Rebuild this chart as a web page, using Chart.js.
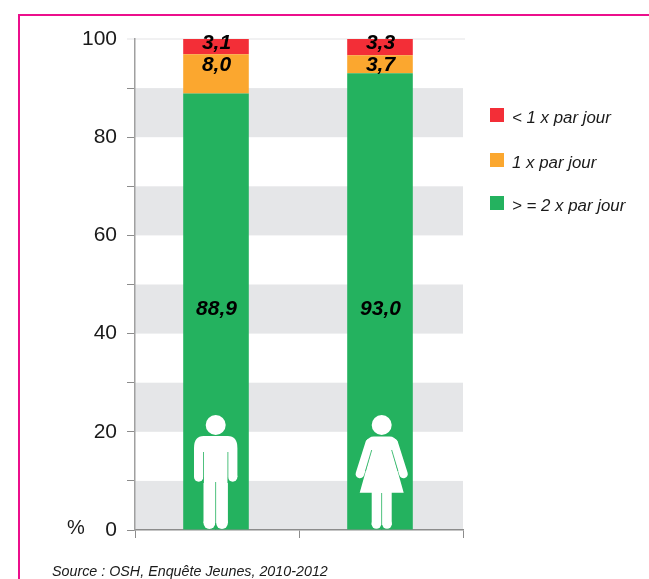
<!DOCTYPE html>
<html>
<head>
<meta charset="utf-8">
<style>html,body{margin:0;padding:0;background:#fff;overflow:hidden}canvas{display:block}</style>
<script src="https://cdn.jsdelivr.net/npm/chart.js@4"></script>
</head>
<body>
<canvas id="c" width="649" height="579"></canvas>
<script>
const categories = ["Garçons", "Filles"];
const twiceOrMore = [88.9, 93.0];
const once = [8.0, 3.7];
const lessThanOnce = [3.1, 3.3];
const twiceLabels = ["88,9", "93,0"];
const onceLabels = ["8,0", "3,7"];
const lessLabels = ["3,1", "3,3"];
const seriesNames = ["> = 2 x par jour", "1 x par jour", "< 1 x par jour"];
const seriesColors = ["#24b25f", "#fba72f", "#f32e37"];
const bandRanges = [[0, 10], [20, 30], [40, 50], [60, 70], [80, 90]];
const FONT = '"Liberation Sans", Arial, sans-serif';

function circle(ctx, x, y, r) { ctx.beginPath(); ctx.arc(x, y, r, 0, Math.PI * 2); ctx.fill(); }
function limb(ctx, x1, y1, x2, y2, w) {
  ctx.save(); ctx.strokeStyle = '#fff'; ctx.lineWidth = w; ctx.lineCap = 'round';
  ctx.beginPath(); ctx.moveTo(x1, y1); ctx.lineTo(x2, y2); ctx.stroke(); ctx.restore();
}
function drawMan(ctx, cx, base) {
  ctx.fillStyle = '#fff';
  circle(ctx, cx, base - 105, 10);
  ctx.beginPath();
  ctx.moveTo(cx - 12, base - 94);
  ctx.lineTo(cx + 12, base - 94);
  ctx.quadraticCurveTo(cx + 21.7, base - 94, cx + 21.7, base - 82);
  ctx.lineTo(cx + 21.7, base - 53);
  ctx.lineTo(cx - 21.7, base - 53);
  ctx.lineTo(cx - 21.7, base - 82);
  ctx.quadraticCurveTo(cx - 21.7, base - 94, cx - 12, base - 94);
  ctx.fill();
  circle(ctx, cx - 17, base - 53, 4.7);
  circle(ctx, cx + 17, base - 53, 4.7);
  ctx.fillRect(cx - 12.2, base - 60, 24.4, 53);
  circle(ctx, cx - 6.3, base - 7, 5.9);
  circle(ctx, cx + 6.3, base - 7, 5.9);
  ctx.fillStyle = seriesColors[0];
  ctx.fillRect(cx - 12.6, base - 78, 0.8, 31);
  ctx.fillRect(cx + 11.8, base - 78, 0.8, 31);
  ctx.fillRect(cx - 0.4, base - 48, 0.8, 48);
}
function drawWoman(ctx, cx, base) {
  ctx.fillStyle = '#fff';
  circle(ctx, cx, base - 105, 10);
  limb(ctx, cx - 12, base - 87, cx - 21.8, base - 56, 8.6);
  limb(ctx, cx + 12, base - 87, cx + 21.8, base - 56, 8.6);
  ctx.beginPath();
  ctx.moveTo(cx - 8, base - 93.5);
  ctx.lineTo(cx + 8, base - 93.5);
  ctx.quadraticCurveTo(cx + 13, base - 93.5, cx + 16, base - 88);
  ctx.lineTo(cx + 10, base - 80);
  ctx.lineTo(cx + 22, base - 37.3);
  ctx.lineTo(cx - 22, base - 37.3);
  ctx.lineTo(cx - 10, base - 80);
  ctx.lineTo(cx - 16, base - 88);
  ctx.quadraticCurveTo(cx - 13, base - 93.5, cx - 8, base - 93.5);
  ctx.fill();
  ctx.fillRect(cx - 10, base - 38, 20, 33);
  circle(ctx, cx - 5.3, base - 6, 4.8);
  circle(ctx, cx + 5.3, base - 6, 4.8);
  ctx.strokeStyle = seriesColors[0];
  ctx.lineWidth = 0.8;
  ctx.beginPath();
  ctx.moveTo(cx - 10, base - 80);
  ctx.lineTo(cx - 16.2, base - 59);
  ctx.moveTo(cx + 10, base - 80);
  ctx.lineTo(cx + 16.2, base - 59);
  ctx.stroke();
  ctx.fillStyle = seriesColors[0];
  ctx.fillRect(cx - 0.4, base - 37, 0.8, 37);
}

const backdrop = {
  id: 'backdrop',
  beforeDraw(chart) {
    const { ctx, chartArea: a, scales: { y } } = chart;
    ctx.save();
    ctx.fillStyle = '#e5e6e8';
    bandRanges.forEach(([lo, hi]) => {
      ctx.fillRect(a.left, y.getPixelForValue(hi), a.right - a.left, y.getPixelForValue(lo) - y.getPixelForValue(hi));
    });
    ctx.fillStyle = '#f1f1f2';
    ctx.fillRect(a.left - 8, y.getPixelForValue(100) - 1, a.right - a.left + 10, 2);
    ctx.strokeStyle = '#ec0f8c';
    ctx.lineWidth = 2;
    ctx.strokeRect(19, 15, 700, 700);
    ctx.restore();
  },
  afterDatasetsUpdate(chart) {
    chart.data.datasets.forEach((d, i) => chart.getDatasetMeta(i).data.forEach((b) => { b.x -= 1; }));
  }
};

const overlay = {
  id: 'overlay',
  afterDraw(chart) {
    const { ctx, scales: { y } } = chart;
    ctx.save();
    const base = y.getPixelForValue(0);
    const bars = chart.getDatasetMeta(0).data;
    drawMan(ctx, bars[0].x - 0.3, base);
    drawWoman(ctx, bars[1].x + 1.7, base);

    ctx.fillStyle = '#000';
    ctx.font = 'italic bold 21px ' + FONT;
    ctx.textAlign = 'center';
    ctx.textBaseline = 'middle';
    bars.forEach((b, i) => {
      ctx.fillText(lessLabels[i], b.x + 0.5, y.getPixelForValue(99.2));
      ctx.fillText(onceLabels[i], b.x + 0.5, y.getPixelForValue(94.6));
      ctx.fillText(twiceLabels[i], b.x + 0.5, y.getPixelForValue(45.0));
    });

    ctx.textAlign = 'left';
    ctx.font = '20px ' + FONT;
    ctx.fillStyle = '#1a1a1a';
    ctx.fillText('%', 67, 528);

    ctx.font = 'italic 16.85px ' + FONT;
    const legendRows = [[2, 108], [1, 153], [0, 196]];
    legendRows.forEach(([s, top]) => {
      ctx.fillStyle = seriesColors[s];
      ctx.fillRect(490, top, 14, 14);
      ctx.fillStyle = '#1a1a1a';
      ctx.fillText(seriesNames[s], 512, top + 10);
    });

    ctx.font = 'italic 14.3px ' + FONT;
    ctx.fillText('Source : OSH, Enquête Jeunes, 2010-2012', 52, 572);
    ctx.restore();
  }
};

new Chart(document.getElementById('c'), {
  type: 'bar',
  data: {
    labels: categories,
    datasets: [
      { label: seriesNames[0], data: twiceOrMore, backgroundColor: seriesColors[0] },
      { label: seriesNames[1], data: once, backgroundColor: seriesColors[1] },
      { label: seriesNames[2], data: lessThanOnce, backgroundColor: seriesColors[2] }
    ]
  },
  options: {
    responsive: false,
    animation: false,
    layout: { padding: { top: 39, right: 186, left: 0, bottom: 0 } },
    datasets: { bar: { categoryPercentage: 1, barPercentage: 0.4 } },
    plugins: { legend: { display: false }, tooltip: { enabled: false } },
    scales: {
      x: {
        stacked: true,
        afterFit(s) { s.height = 49; },
        border: { color: '#8c8c8c', width: 1.5 },
        grid: { offset: true, drawOnChartArea: false, drawTicks: true, tickLength: 8, color: '#8c8c8c', lineWidth: 1 },
        ticks: { display: false }
      },
      y: {
        stacked: true,
        min: 0,
        max: 100,
        afterFit(s) { s.width = 135; },
        border: { color: '#a0a0a0', width: 1.5 },
        grid: {
          drawOnChartArea: false,
          tickLength: 8,
          color: (c) => (c.tick && c.tick.value === 100 ? '#f1f1f2' : '#8c8c8c'),
          lineWidth: 1
        },
        ticks: {
          stepSize: 10,
          padding: 10,
          autoSkip: false,
          color: '#1a1a1a',
          font: { family: FONT, size: 21 },
          callback: (v) => (v % 20 === 0 ? String(v) : '')
        }
      }
    }
  },
  plugins: [backdrop, overlay]
});
</script>
</body>
</html>
